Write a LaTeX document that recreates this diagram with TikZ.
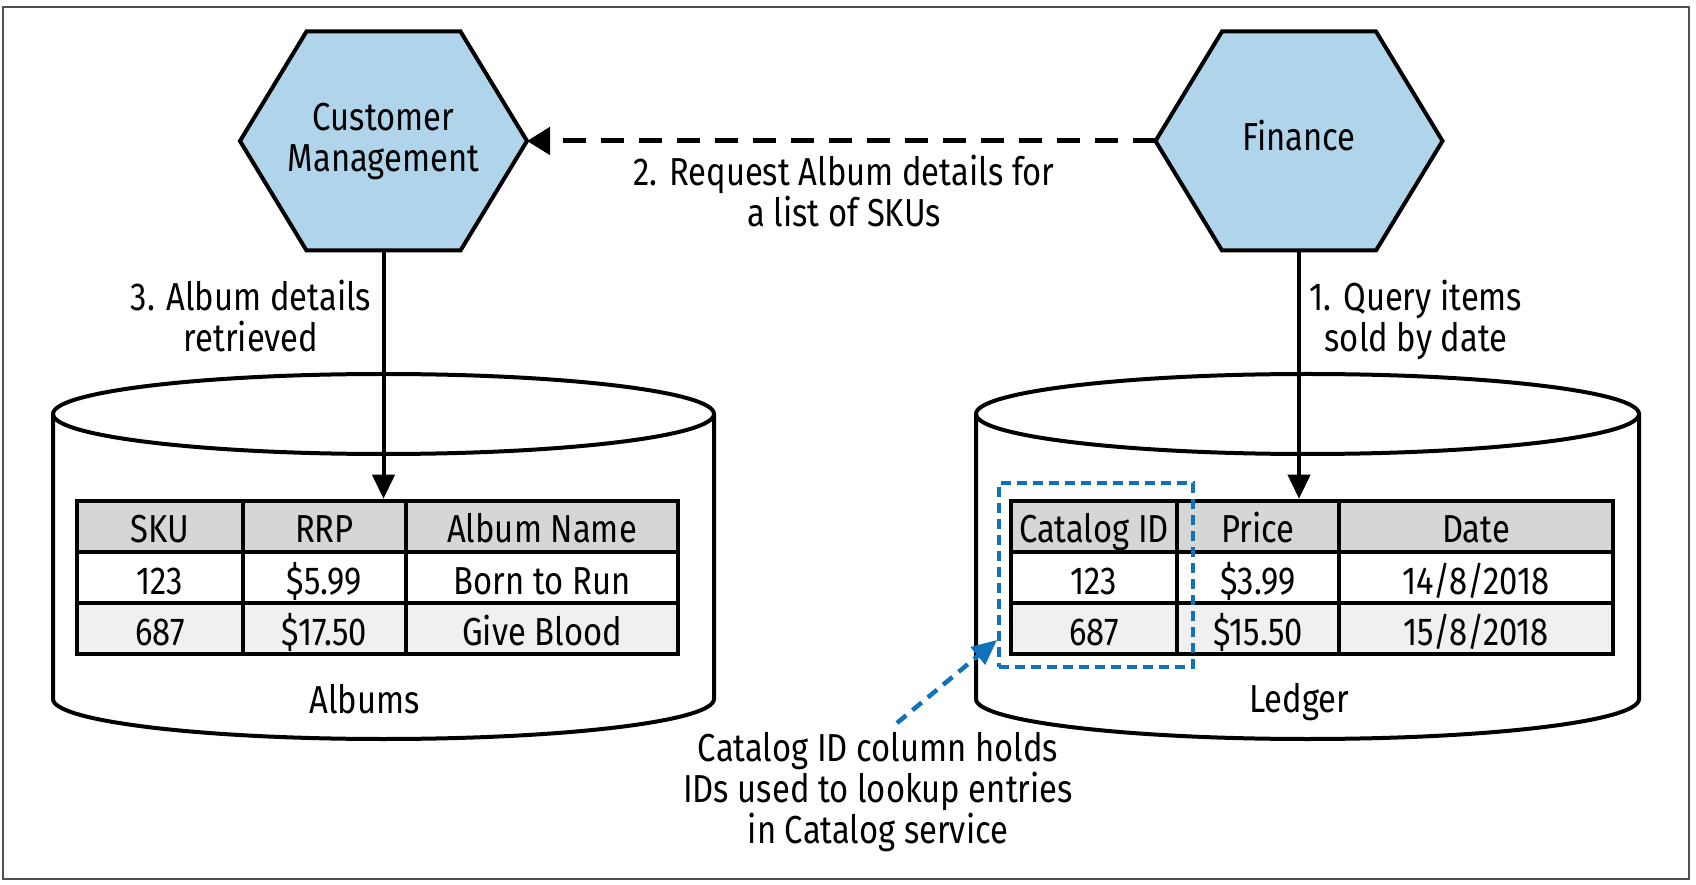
\documentclass[tikz,border=0pt]{standalone}
\usepackage{fontspec}
\setmainfont[FakeStretch=0.84]{Fira Sans}
\usetikzlibrary{arrows.meta,positioning,calc}
\definecolor{hexblue}{RGB}{176,212,234}
\definecolor{hdrgray}{RGB}{214,214,214}
\definecolor{rowgray}{RGB}{240,240,240}
\definecolor{noteblue}{RGB}{16,114,189}
\definecolor{framegray}{RGB}{80,80,80}

\begin{document}
\begin{tikzpicture}[x=1pt,y=1pt,
  txt/.style={font=\fontsize{39}{41}\selectfont, align=center, inner sep=0pt},
  hexa/.style={draw, line width=4pt, fill=hexblue},
  cyl/.style={draw, line width=4pt},
  cell/.style={draw, line width=4.5pt, txt, minimum height=51pt, text height=33pt, text depth=0pt},
  arr/.style={line width=4pt, -{Triangle[length=24pt,width=22pt]}},
  dasharr/.style={line width=5pt, dash pattern=on 23pt off 15pt, -{Triangle[length=23pt,width=27pt]}},
  bluedash/.style={draw=noteblue, line width=4pt, dash pattern=on 10pt off 6pt},
  bluearr/.style={noteblue, line width=4.5pt, dash pattern=on 12pt off 8pt, -{Triangle[length=25pt,width=22pt]}}]
\useasboundingbox (0,0) rectangle (1696,884);
\draw[framegray, line width=1.5pt] (3,5) rectangle (1689,877);

% databases
\draw[cyl] (53,470) -- (53,185) arc[start angle=180, end angle=360, x radius=330.5pt, y radius=40pt] -- (714,470);
\draw[cyl] (383.5,470) ellipse [x radius=330.5pt, y radius=40pt];
\draw[cyl] (976,470) -- (976,185) arc[start angle=180, end angle=360, x radius=331.5pt, y radius=40pt] -- (1639,470);
\draw[cyl] (1307.5,470) ellipse [x radius=331.5pt, y radius=40pt];
\node[txt] (albums) at (364.5,185) {Albums};
\node[txt] (ledger) at (1299,182) {Ledger};

% tables
\foreach \r/\fc/\ta/\tb/\tc in {0/hdrgray/SKU/RRP/Album Name,1/white/123/\$5.99/Born to Run,2/rowgray/687/\$17.50/Give Blood}{
  \node[cell, fill=\fc, minimum width=166pt] (alb-\r-1) at (160,357.5-51*\r) {\ta};
  \node[cell, fill=\fc, minimum width=163pt] (alb-\r-2) at (324.5,357.5-51*\r) {\tb};
  \node[cell, fill=\fc, minimum width=272pt] (alb-\r-3) at (542,357.5-51*\r) {\tc};
}
\foreach \r/\fc/\ta/\tb/\tc in {0/hdrgray/Catalog ID/Price/Date,1/white/123/\$3.99/{14/8/2018},2/rowgray/687/\$15.50/{15/8/2018}}{
  \node[cell, fill=\fc, minimum width=166pt] (ldg-\r-1) at (1094,357.5-51*\r) {\ta};
  \node[cell, fill=\fc, minimum width=162pt] (ldg-\r-2) at (1258,357.5-51*\r) {\tb};
  \node[cell, fill=\fc, minimum width=274pt] (ldg-\r-3) at (1476,357.5-51*\r) {\tc};
}
\node[bluedash, minimum width=194pt, minimum height=184pt, inner sep=0pt] (idcol) at (1096,309) {};

% services
\path[hexa] (240,743) -- (306.5,852.5) -- (460.5,852.5) -- (527,743) -- (460.5,633.5) -- (306.5,633.5) -- cycle;
\path[hexa] (1155.5,743) -- (1222,852.5) -- (1376,852.5) -- (1442.5,743) -- (1376,633.5) -- (1222,633.5) -- cycle;
\node[txt] (cm) at (383.5,743) {Customer\\Management};
\node[txt] (fin) at (1299,748) {Finance};
\coordinate (cm-e) at (527,743);
\coordinate (cm-s) at (383.5,633.5);
\coordinate (fin-w) at (1155.5,743);
\coordinate (fin-s) at (1299,633.5);
\coordinate (note-tail) at (897,161);

% flows
\draw[arr] (fin-s) -- (fin-s |- ldg-0-2.north);
\draw[dasharr] (fin-w) -- (cm-e);
\draw[arr] (cm-s) -- (cm-s |- alb-0-2.north);
\draw[bluearr] (note-tail) -- ($(idcol.south west)+(0,29)$);

\node[txt] (qry) at (1416,564) {1. Query items\\sold by date};
\node[txt] (req) at (844,693) {2. Request Album details for\\a list of SKUs};
\node[txt] (ret) at (251,568) {3. Album details\\retrieved};
\node[txt] (note) at (878,92) {Catalog ID column holds\\IDs used to lookup entries\\in Catalog service};
\end{tikzpicture}
\end{document}
